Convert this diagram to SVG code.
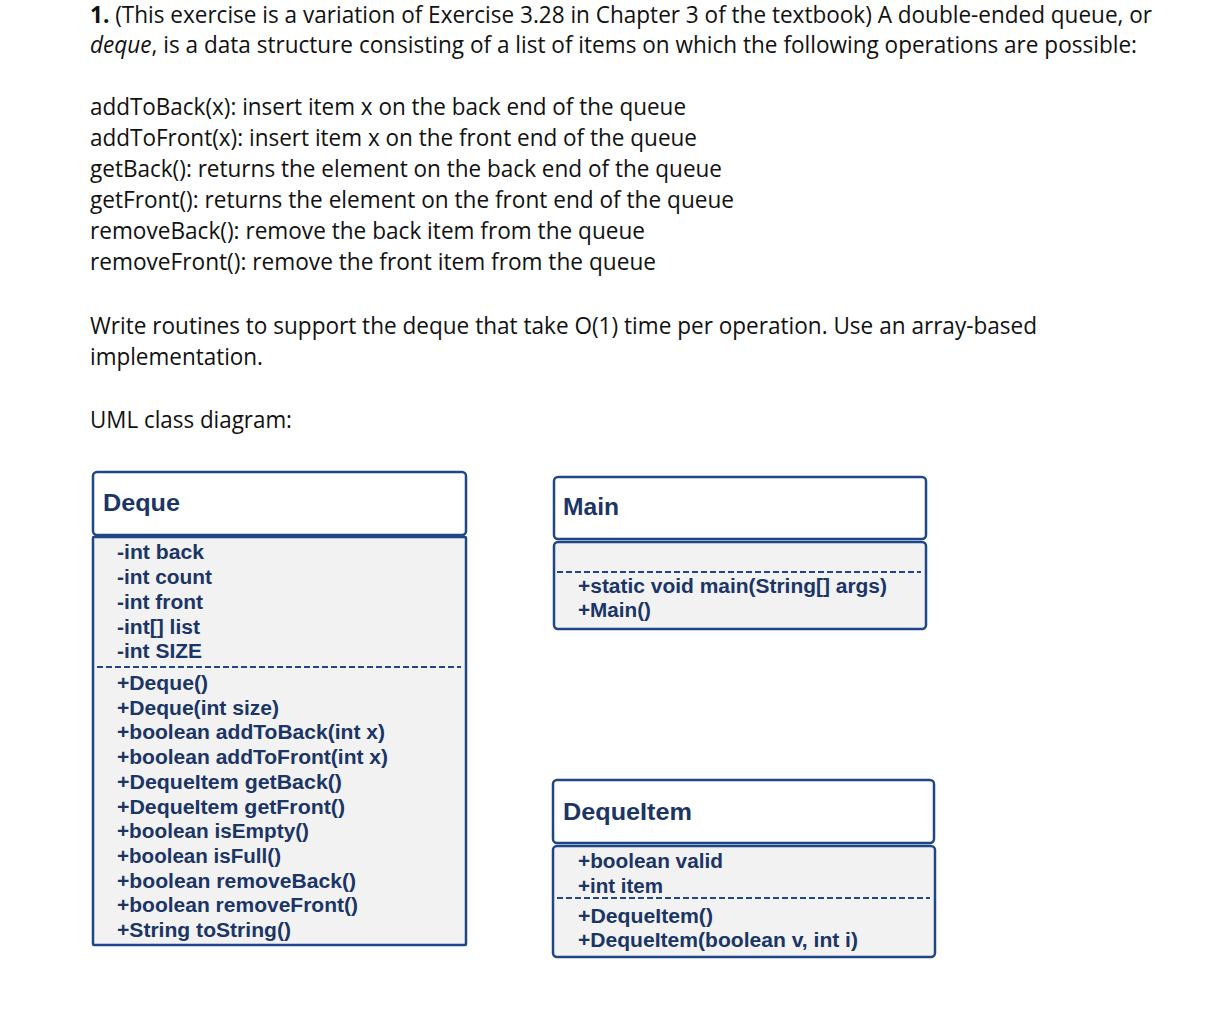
<svg xmlns="http://www.w3.org/2000/svg" width="1211" height="1018" viewBox="0 0 1211 1018">
<style>
.p{font-family:"Open Sans","Noto Sans","Liberation Sans",sans-serif;font-size:23px;fill:#111}
.t{font-family:"Liberation Sans",Arial,sans-serif;font-weight:bold;font-size:23px;fill:#1b3566}
.m{font-family:"Liberation Sans",Arial,sans-serif;font-weight:bold;font-size:20px;fill:#1b3566}
.hd{fill:#ffffff;stroke:#1f4687;stroke-width:2.5}
.bd{fill:#f2f2f2;stroke:#1f4687;stroke-width:2.5}
.sep{stroke:#1f4687;stroke-width:2;stroke-dasharray:6 3;fill:none}
</style>
<rect width="1211" height="1018" fill="#ffffff"/>
<g id="prose">
<text class="p" x="90" y="23" font-size="22" textLength="1062" lengthAdjust="spacingAndGlyphs"><tspan font-weight="bold">1.</tspan> (This exercise is a variation of Exercise 3.28 in Chapter 3 of the textbook) A double-ended queue, or</text>
<text class="p" x="90" y="53" textLength="1047" lengthAdjust="spacingAndGlyphs"><tspan font-style="italic">deque</tspan>, is a data structure consisting of a list of items on which the following operations are possible:</text>
<text class="p" x="90" y="115" textLength="596" lengthAdjust="spacingAndGlyphs">addToBack(x): insert item x on the back end of the queue</text>
<text class="p" x="90" y="146" textLength="607" lengthAdjust="spacingAndGlyphs">addToFront(x): insert item x on the front end of the queue</text>
<text class="p" x="90" y="177" textLength="632" lengthAdjust="spacingAndGlyphs">getBack(): returns the element on the back end of the queue</text>
<text class="p" x="90" y="208" textLength="644" lengthAdjust="spacingAndGlyphs">getFront(): returns the element on the front end of the queue</text>
<text class="p" x="90" y="239" textLength="555" lengthAdjust="spacingAndGlyphs">removeBack(): remove the back item from the queue</text>
<text class="p" x="90" y="270" textLength="566" lengthAdjust="spacingAndGlyphs">removeFront(): remove the front item from the queue</text>
<text class="p" x="90" y="334" textLength="947" lengthAdjust="spacingAndGlyphs">Write routines to support the deque that take O(1) time per operation. Use an array-based</text>
<text class="p" x="90" y="365" textLength="173" lengthAdjust="spacingAndGlyphs">implementation.</text>
<text class="p" x="90" y="428" textLength="202" lengthAdjust="spacingAndGlyphs">UML class diagram:</text>
</g>
<g id="connectors"></g>
<g id="Deque">
<rect class="bd" x="93" y="537" width="373" height="408" rx="1"/>
<rect class="hd" x="93" y="472" width="373" height="63" rx="4"/>
<line class="sep" x1="97" y1="667" x2="461" y2="667"/>
<text class="t" x="103" y="511" textLength="77" lengthAdjust="spacingAndGlyphs">Deque</text>
<text class="m" x="117" y="559" textLength="87" lengthAdjust="spacingAndGlyphs">-int back</text>
<text class="m" x="117" y="584" textLength="95" lengthAdjust="spacingAndGlyphs">-int count</text>
<text class="m" x="117" y="609" textLength="86" lengthAdjust="spacingAndGlyphs">-int front</text>
<text class="m" x="117" y="634" textLength="83" lengthAdjust="spacingAndGlyphs">-int[] list</text>
<text class="m" x="117" y="658" textLength="85" lengthAdjust="spacingAndGlyphs">-int SIZE</text>
<text class="m" x="117" y="690" textLength="91" lengthAdjust="spacingAndGlyphs">+Deque()</text>
<text class="m" x="117" y="714.7" textLength="162" lengthAdjust="spacingAndGlyphs">+Deque(int size)</text>
<text class="m" x="117" y="739.4" textLength="268" lengthAdjust="spacingAndGlyphs">+boolean addToBack(int x)</text>
<text class="m" x="117" y="764.1" textLength="271" lengthAdjust="spacingAndGlyphs">+boolean addToFront(int x)</text>
<text class="m" x="117" y="788.8" textLength="225" lengthAdjust="spacingAndGlyphs">+DequeItem getBack()</text>
<text class="m" x="117" y="813.5" textLength="228" lengthAdjust="spacingAndGlyphs">+DequeItem getFront()</text>
<text class="m" x="117" y="838.2" textLength="192" lengthAdjust="spacingAndGlyphs">+boolean isEmpty()</text>
<text class="m" x="117" y="862.9" textLength="164" lengthAdjust="spacingAndGlyphs">+boolean isFull()</text>
<text class="m" x="117" y="887.6" textLength="239" lengthAdjust="spacingAndGlyphs">+boolean removeBack()</text>
<text class="m" x="117" y="912.3" textLength="241" lengthAdjust="spacingAndGlyphs">+boolean removeFront()</text>
<text class="m" x="117" y="937" textLength="174" lengthAdjust="spacingAndGlyphs">+String toString()</text>
</g>
<g id="Main">
<rect class="bd" x="554" y="542" width="372" height="87" rx="4"/>
<rect class="hd" x="554" y="477" width="372" height="62" rx="4"/>
<line class="sep" x1="557" y1="572" x2="921" y2="572"/>
<text class="t" x="563" y="515" textLength="56" lengthAdjust="spacingAndGlyphs">Main</text>
<text class="m" x="578" y="593" textLength="309" lengthAdjust="spacingAndGlyphs">+static void main(String[] args)</text>
<text class="m" x="578" y="617" textLength="73" lengthAdjust="spacingAndGlyphs">+Main()</text>
</g>
<g id="DequeItem">
<rect class="bd" x="553" y="846" width="382" height="111" rx="4"/>
<rect class="hd" x="553" y="780" width="381" height="63" rx="4"/>
<line class="sep" x1="557" y1="898" x2="930" y2="898"/>
<text class="t" x="563" y="820" textLength="129" lengthAdjust="spacingAndGlyphs">DequeItem</text>
<text class="m" x="578" y="868" textLength="145" lengthAdjust="spacingAndGlyphs">+boolean valid</text>
<text class="m" x="578" y="893" textLength="85" lengthAdjust="spacingAndGlyphs">+int item</text>
<text class="m" x="578" y="923" textLength="135" lengthAdjust="spacingAndGlyphs">+DequeItem()</text>
<text class="m" x="578" y="947" textLength="280" lengthAdjust="spacingAndGlyphs">+DequeItem(boolean v, int i)</text>
</g>
</svg>
